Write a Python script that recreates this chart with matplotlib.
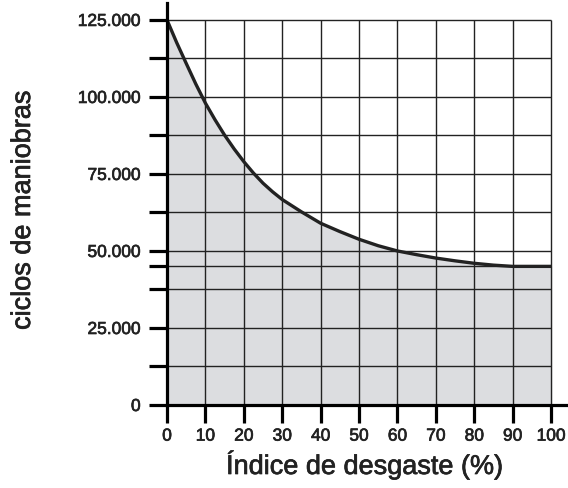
import matplotlib.pyplot as plt
import matplotlib.patheffects as pe

plt.rcParams['font.family'] = ['Liberation Sans', 'DejaVu Sans']

# datos
desgaste = [0, 2.5, 5, 7.5, 10, 12.5, 15, 17.5, 20, 22.5, 25, 27.5, 30, 35, 40, 45, 50,
            55, 60, 65, 70, 75, 80, 85, 90, 95, 100]
ciclos = [125000, 117700, 110900, 104200, 98000, 92600, 87600, 83100, 79000, 75300,
          72000, 69200, 66700, 62700, 59000, 56300, 53800, 51700, 50000, 48800, 47700,
          46800, 46000, 45400, 45000, 45000, 45000]

xticks = [0, 10, 20, 30, 40, 50, 60, 70, 80, 90, 100]
yticks = [0, 12500, 25000, 37500, 45000, 50000, 62500, 75000, 87500, 100000, 112500, 125000]
ylabels = ["0", "", "25.000", "", "", "50.000", "", "75.000", "", "100.000", "", "125.000"]

fig = plt.figure(figsize=(5.68, 4.88), dpi=100)
ax = fig.add_axes([167/568, 1-405/488, 1-167/568, 402/488])
ax.set_xlim(0, 104.4)
ax.set_ylim(0, 130500)

ax.fill_between(desgaste, 0, ciclos, color="#dcdde0", zorder=1)

# rejilla
ax.vlines(xticks[1:], 0, 125000, color="#222222", lw=1, zorder=2)
ax.hlines(yticks[1:], 0, 100, color="#222222", lw=1, zorder=2)

ax.plot(desgaste, ciclos, color="#222222", lw=2.4, zorder=3,
        solid_capstyle="butt", solid_joinstyle="round")

for s in ["top", "right"]:
    ax.spines[s].set_visible(False)
for s in ["left", "bottom"]:
    ax.spines[s].set_linewidth(2.3)
    ax.spines[s].set_color("black")
    ax.spines[s].set_zorder(4)

grueso = [pe.withStroke(linewidth=0.5, foreground="#222222")]

ax.set_xticks(xticks)
ax.set_xticklabels([str(v) for v in xticks])
ax.set_yticks(yticks)
ax.set_yticklabels(ylabels)
ax.tick_params(direction="out", length=13, width=2.3, color="black",
               labelsize=12.5, labelcolor="#222222")
ax.tick_params(axis="y", pad=6)
ax.tick_params(axis="x", pad=4)
for t in ax.get_xticklabels() + ax.get_yticklabels():
    t.set_path_effects(grueso)

fig.text(365/568, 1-465/488, "Índice de desgaste (%)", fontsize=19.5, color="#222222",
         ha="center", va="center", path_effects=grueso)
fig.text(23/568, 1-210/488, "ciclos de maniobras", fontsize=19.5, color="#222222",
         ha="center", va="center", rotation=90, path_effects=grueso)

fig.savefig("out.png", dpi=100)
